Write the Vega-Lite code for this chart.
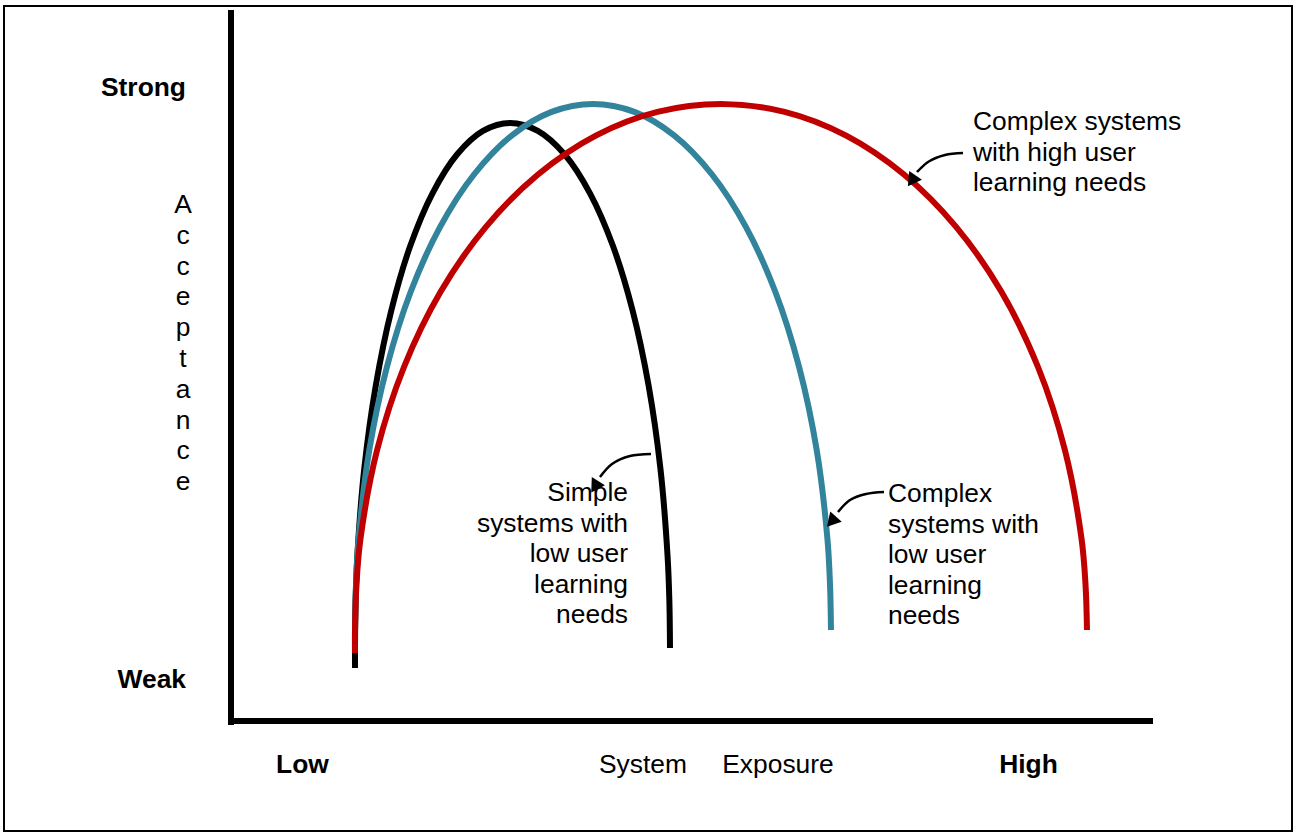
{
  "$schema": "https://vega.github.io/schema/vega-lite/v6.json",
  "width": 1288,
  "height": 825,
  "padding": {"left": 4, "top": 6, "right": 6, "bottom": 3},
  "autosize": {"type": "none"},
  "background": "white",
  "config": {"view": {"stroke": "black", "strokeWidth": 2}, "font": "Liberation Sans"},
  "datasets": {
    "curves": [
      {"series": "simple", "i": 0, "x": 12.4, "y": 5.3},
      {"series": "simple", "i": 1, "x": 12.4, "y": 7.3},
      {"series": "simple", "i": 2, "x": 12.46, "y": 11.87},
      {"series": "simple", "i": 3, "x": 12.63, "y": 16.44},
      {"series": "simple", "i": 4, "x": 13.33, "y": 25.26},
      {"series": "simple", "i": 5, "x": 14.48, "y": 33.55},
      {"series": "simple", "i": 6, "x": 16.03, "y": 41.06},
      {"series": "simple", "i": 7, "x": 17.93, "y": 47.52},
      {"series": "simple", "i": 8, "x": 20.15, "y": 52.77},
      {"series": "simple", "i": 9, "x": 22.6, "y": 56.65},
      {"series": "simple", "i": 10, "x": 25.2, "y": 59.01},
      {"series": "simple", "i": 11, "x": 27.9, "y": 59.8},
      {"series": "simple", "i": 12, "x": 30.68, "y": 59.01},
      {"series": "simple", "i": 13, "x": 33.37, "y": 56.65},
      {"series": "simple", "i": 14, "x": 35.9, "y": 52.77},
      {"series": "simple", "i": 15, "x": 38.19, "y": 47.52},
      {"series": "simple", "i": 16, "x": 40.16, "y": 41.06},
      {"series": "simple", "i": 17, "x": 41.76, "y": 33.55},
      {"series": "simple", "i": 18, "x": 42.94, "y": 25.26},
      {"series": "simple", "i": 19, "x": 43.66, "y": 16.44},
      {"series": "simple", "i": 20, "x": 43.84, "y": 11.87},
      {"series": "simple", "i": 21, "x": 43.9, "y": 7.3},

      {"series": "complexlow", "i": 0, "x": 12.4, "y": 9.1},
      {"series": "complexlow", "i": 1, "x": 12.5, "y": 13.68},
      {"series": "complexlow", "i": 2, "x": 12.76, "y": 18.25},
      {"series": "complexlow", "i": 3, "x": 13.83, "y": 27.09},
      {"series": "complexlow", "i": 4, "x": 15.59, "y": 35.4},
      {"series": "complexlow", "i": 5, "x": 17.97, "y": 42.92},
      {"series": "complexlow", "i": 6, "x": 20.9, "y": 49.39},
      {"series": "complexlow", "i": 7, "x": 24.3, "y": 54.65},
      {"series": "complexlow", "i": 8, "x": 28.06, "y": 58.54},
      {"series": "complexlow", "i": 9, "x": 32.06, "y": 60.91},
      {"series": "complexlow", "i": 10, "x": 36.2, "y": 61.7},
      {"series": "complexlow", "i": 11, "x": 40.34, "y": 60.91},
      {"series": "complexlow", "i": 12, "x": 44.34, "y": 58.54},
      {"series": "complexlow", "i": 13, "x": 48.1, "y": 54.65},
      {"series": "complexlow", "i": 14, "x": 51.5, "y": 49.39},
      {"series": "complexlow", "i": 15, "x": 54.43, "y": 42.92},
      {"series": "complexlow", "i": 16, "x": 56.81, "y": 35.4},
      {"series": "complexlow", "i": 17, "x": 58.57, "y": 27.09},
      {"series": "complexlow", "i": 18, "x": 59.64, "y": 18.25},
      {"series": "complexlow", "i": 19, "x": 59.9, "y": 13.68},
      {"series": "complexlow", "i": 20, "x": 60.0, "y": 9.1},

      {"series": "complexhigh", "i": 0, "x": 12.4, "y": 6.8},
      {"series": "complexhigh", "i": 1, "x": 12.4, "y": 9.1},
      {"series": "complexhigh", "i": 2, "x": 12.55, "y": 13.68},
      {"series": "complexhigh", "i": 3, "x": 12.95, "y": 18.25},
      {"series": "complexhigh", "i": 4, "x": 14.61, "y": 27.09},
      {"series": "complexhigh", "i": 5, "x": 17.3, "y": 35.4},
      {"series": "complexhigh", "i": 6, "x": 20.96, "y": 42.92},
      {"series": "complexhigh", "i": 7, "x": 25.47, "y": 49.39},
      {"series": "complexhigh", "i": 8, "x": 30.7, "y": 54.65},
      {"series": "complexhigh", "i": 9, "x": 36.48, "y": 58.54},
      {"series": "complexhigh", "i": 10, "x": 42.64, "y": 60.91},
      {"series": "complexhigh", "i": 11, "x": 49.0, "y": 61.7},
      {"series": "complexhigh", "i": 12, "x": 55.36, "y": 60.91},
      {"series": "complexhigh", "i": 13, "x": 61.52, "y": 58.54},
      {"series": "complexhigh", "i": 14, "x": 67.3, "y": 54.65},
      {"series": "complexhigh", "i": 15, "x": 72.53, "y": 49.39},
      {"series": "complexhigh", "i": 16, "x": 77.04, "y": 42.92},
      {"series": "complexhigh", "i": 17, "x": 80.7, "y": 35.4},
      {"series": "complexhigh", "i": 18, "x": 83.39, "y": 27.09},
      {"series": "complexhigh", "i": 19, "x": 85.05, "y": 18.25},
      {"series": "complexhigh", "i": 20, "x": 85.45, "y": 13.68},
      {"series": "complexhigh", "i": 21, "x": 85.6, "y": 9.1}
    ],
    "arrows": [
      {"a": "simple", "i": 0, "x": 42.0, "y": 26.7},
      {"a": "simple", "i": 1, "x": 39.9, "y": 26.5},
      {"a": "simple", "i": 2, "x": 38.1, "y": 25.7},
      {"a": "simple", "i": 3, "x": 36.9, "y": 24.4},
      {"a": "low", "i": 0, "x": 65.3, "y": 22.9},
      {"a": "low", "i": 1, "x": 63.5, "y": 22.7},
      {"a": "low", "i": 2, "x": 61.9, "y": 22.1},
      {"a": "low", "i": 3, "x": 60.7, "y": 20.9},
      {"a": "high", "i": 0, "x": 73.2, "y": 56.8},
      {"a": "high", "i": 1, "x": 71.4, "y": 56.6},
      {"a": "high", "i": 2, "x": 69.7, "y": 55.9},
      {"a": "high", "i": 3, "x": 68.6, "y": 54.9}
    ],
    "heads": [
      {"a": "simple", "x": 36.5, "y": 23.6, "angle": 212},
      {"a": "low", "x": 60.2, "y": 20.1, "angle": 222},
      {"a": "high", "x": 68.2, "y": 54.2, "angle": 215}
    ],
    "axes": [
      {"x": 0, "y": -0.4, "x2": 0, "y2": 71.1},
      {"x": -0.3, "y": 0, "x2": 92.2, "y2": 0}
    ]
  },
  "encoding": {
    "x": {"type": "quantitative", "scale": {"domain": [-22.7, 106.1], "nice": false, "zero": false}, "axis": null},
    "y": {"type": "quantitative", "scale": {"domain": [-11.0, 71.5], "nice": false, "zero": false}, "axis": null}
  },
  "layer": [
    {
      "data": {"name": "axes"},
      "mark": {"type": "rule", "color": "black", "strokeWidth": 6},
      "encoding": {
        "x": {"field": "x", "type": "quantitative"},
        "y": {"field": "y", "type": "quantitative"},
        "x2": {"field": "x2"},
        "y2": {"field": "y2"}
      }
    },
    {
      "data": {"name": "curves"},
      "mark": {"type": "line", "strokeWidth": 6, "interpolate": "catmull-rom", "strokeCap": "butt"},
      "encoding": {
        "x": {"field": "x", "type": "quantitative"},
        "y": {"field": "y", "type": "quantitative"},
        "order": {"field": "i", "type": "quantitative"},
        "color": {"field": "series", "type": "nominal", "legend": null,
          "scale": {"domain": ["simple", "complexlow", "complexhigh"], "range": ["#000000", "#31849B", "#C00000"]}}
      }
    },
    {
      "data": {"name": "arrows"},
      "mark": {"type": "line", "strokeWidth": 2.5, "color": "black", "interpolate": "catmull-rom"},
      "encoding": {
        "x": {"field": "x", "type": "quantitative"},
        "y": {"field": "y", "type": "quantitative"},
        "order": {"field": "i", "type": "quantitative"},
        "detail": {"field": "a"}
      }
    },
    {
      "data": {"name": "heads"},
      "mark": {"type": "point", "shape": "triangle", "filled": true, "color": "black", "size": 240, "opacity": 1},
      "encoding": {
        "x": {"field": "x", "type": "quantitative"},
        "y": {"field": "y", "type": "quantitative"},
        "angle": {"field": "angle", "type": "quantitative", "scale": null}
      }
    },
    {
      "data": {"values": [
        {"x": -4.5, "y": 63.3, "label": "Strong"},
        {"x": -4.5, "y": 4.1, "label": "Weak"}
      ]},
      "mark": {"type": "text", "fontSize": 26.4, "fontWeight": "bold", "align": "right", "baseline": "middle", "color": "black"},
      "encoding": {
        "x": {"field": "x", "type": "quantitative"},
        "y": {"field": "y", "type": "quantitative"},
        "text": {"field": "label"}
      }
    },
    {
      "data": {"values": [
        {"x": 7.15, "y": -4.4, "label": "Low"},
        {"x": 79.75, "y": -4.4, "label": "High"}
      ]},
      "mark": {"type": "text", "fontSize": 26.4, "fontWeight": "bold", "align": "center", "baseline": "middle", "color": "black"},
      "encoding": {
        "x": {"field": "x", "type": "quantitative"},
        "y": {"field": "y", "type": "quantitative"},
        "text": {"field": "label"}
      }
    },
    {
      "data": {"values": [
        {"x": 41.2, "y": -4.4, "label": "System"},
        {"x": 54.7, "y": -4.4, "label": "Exposure"},
        {"x": -4.8, "y": 51.6, "label": "A\nc\nc\ne\np\nt\na\nn\nc\ne"}
      ]},
      "mark": {"type": "text", "fontSize": 26.4, "align": "center", "baseline": "middle", "color": "black", "lineBreak": "\n", "lineHeight": 30.8},
      "encoding": {
        "x": {"field": "x", "type": "quantitative"},
        "y": {"field": "y", "type": "quantitative"},
        "text": {"field": "label"}
      }
    },
    {
      "data": {"values": [
        {"x": 39.7, "y": 22.8, "label": "Simple\nsystems with\nlow user\nlearning\nneeds"}
      ]},
      "mark": {"type": "text", "fontSize": 26.4, "align": "right", "baseline": "middle", "color": "black", "lineBreak": "\n", "lineHeight": 30.6},
      "encoding": {
        "x": {"field": "x", "type": "quantitative"},
        "y": {"field": "y", "type": "quantitative"},
        "text": {"field": "label"}
      }
    },
    {
      "data": {"values": [
        {"x": 65.7, "y": 22.7, "label": "Complex\nsystems with\nlow user\nlearning\nneeds"},
        {"x": 74.2, "y": 59.9, "label": "Complex systems\nwith high user\nlearning needs"}
      ]},
      "mark": {"type": "text", "fontSize": 26.4, "align": "left", "baseline": "middle", "color": "black", "lineBreak": "\n", "lineHeight": 30.6},
      "encoding": {
        "x": {"field": "x", "type": "quantitative"},
        "y": {"field": "y", "type": "quantitative"},
        "text": {"field": "label"}
      }
    }
  ]
}
